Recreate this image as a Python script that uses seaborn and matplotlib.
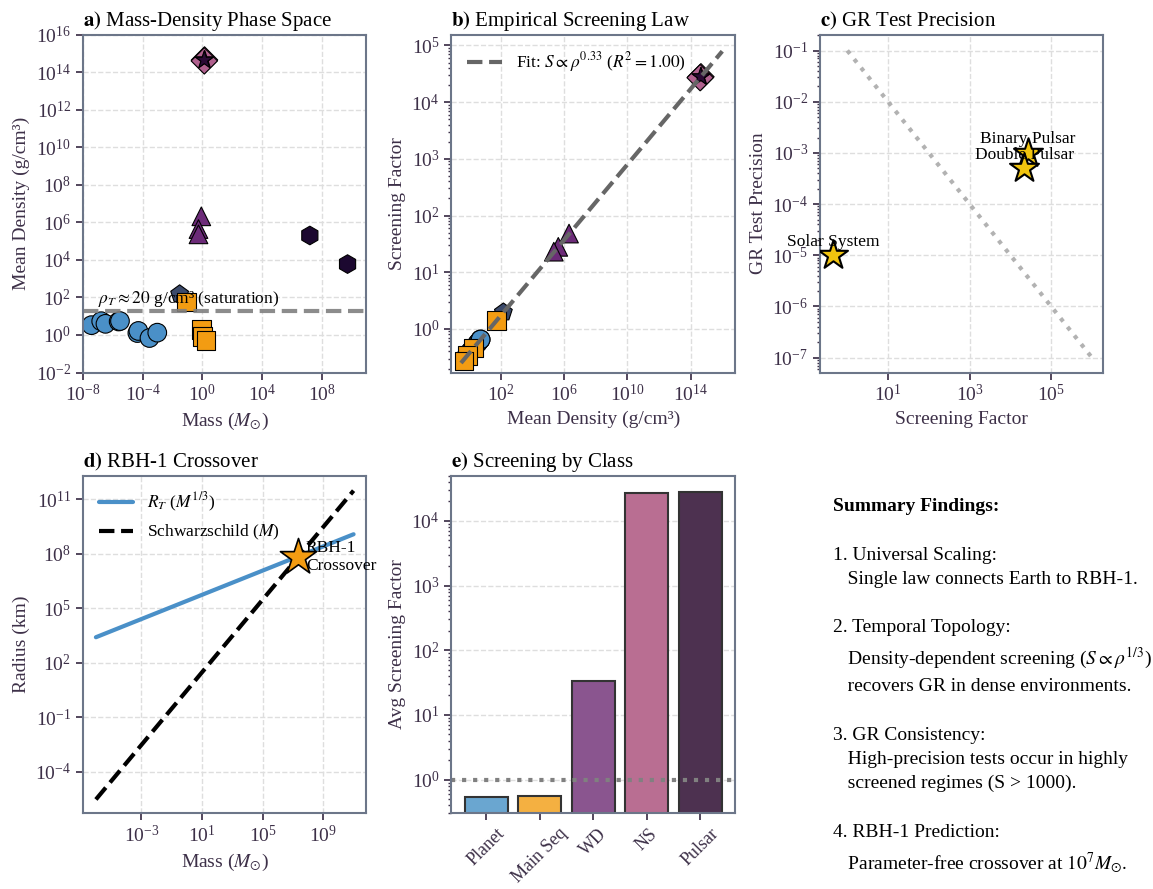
import numpy as np
import pandas as pd
import matplotlib
matplotlib.use("Agg")
import matplotlib.pyplot as plt
import seaborn as sns
from matplotlib.ticker import LogLocator, NullLocator

# objets
names = ["Moon", "Mercury", "Mars", "Venus", "Earth", "Uranus", "Neptune", "Saturn", "Jupiter",
         "Brown Dwarf", "Red Dwarf", "Star K", "Sun", "Star A",
         "Sirius B", "40 Eri B", "Procyon B",
         "NS 1", "NS 2", "Hulse-Taylor", "Double Pulsar",
         "BH 1", "BH 2"]
obj_class = ["Planet"] * 9 + ["Brown Dwarf"] + ["Main Seq"] * 4 + ["WD"] * 3 + ["NS"] * 2 + ["Pulsar"] * 2 + ["BH"] * 2
mass = [3.7e-8, 1.66e-7, 3.2e-7, 2.45e-6, 3.0e-6, 4.4e-5, 5.15e-5, 2.86e-4, 9.5e-4,
        0.03, 0.09, 0.85, 1.0, 1.8,
        0.85, 0.55, 0.55,
        1.4, 1.35, 1.44, 1.34,
        1.6e7, 5.4e9]
density = [3.34, 5.43, 3.93, 5.24, 5.51, 1.27, 1.64, 0.69, 1.33,
           150, 57, 1.9, 0.8, 0.5,
           2.1e6, 4.4e5, 2.3e5,
           4.5e14, 4.0e14, 4.6e14, 4.4e14,
           2.0e5, 6.0e3]
screening = [0.55, 0.65, 0.58, 0.64, 0.65, 0.40, 0.43, 0.33, 0.41,
             1.96, 1.42, 0.46, 0.34, 0.27,
             48, 28, 23,
             2.8e4, 2.7e4, 2.8e4, 2.8e4,
             np.nan, np.nan]

# loi ajustée
fit_rho = [10**-0.5, 1e16]
fit_s = [0.25, 7.9e4]

# tests de RG
test_names = ["Solar System", "Binary Pulsar", "Double Pulsar"]
test_screening = [0.45, 2.7e4, 2.2e4]
test_precision = [1e-5, 1e-3, 5e-4]
trend_s = [1.0, 1e6]
trend_prec = [1e-1, 1e-7]

# croisement RBH-1
m_grid = [1e-6, 1e11]
r_tidal = [10**3.4, 10**9.07]
r_schw = [2.95e-6, 2.95e11]
cross_m = [2e7]
cross_r = [6.5e7]

# moyennes par classe
bar_classes = ["Planet", "Main Seq", "WD", "NS", "Pulsar"]
bar_values = [0.53, 0.56, 33, 2.7e4, 2.8e4]
bar_colors = ["#6aa6d0", "#f4b041", "#8a558f", "#b96e92", "#4d3150"]

colors = {"Planet": "#4a90c8", "Brown Dwarf": "#3b4a6b", "Main Seq": "#f39c12", "WD": "#6c2b78",
          "NS": "#b0608e", "Pulsar": "#2b0a35", "BH": "#1c0830"}
markers = {"Planet": "o", "Brown Dwarf": "p", "Main Seq": "s", "WD": "^",
           "NS": "D", "Pulsar": "*", "BH": "h"}

df = pd.DataFrame({"name": names, "cls": obj_class, "mass": mass,
                   "density": density, "screening": screening})

text_col = "#3d3048"
sns.set_theme(style="whitegrid", rc={
    "axes.edgecolor": "#6c7689", "axes.linewidth": 1.5,
    "grid.color": "#dedede", "grid.linestyle": "--", "grid.linewidth": 1.0,
    "xtick.bottom": True, "ytick.left": True,
    "xtick.color": text_col, "ytick.color": text_col,
    "xtick.major.size": 5, "ytick.major.size": 5,
    "xtick.minor.size": 2.5, "ytick.minor.size": 2.5,
    "xtick.labelsize": 14, "ytick.labelsize": 14,
    "axes.labelsize": 14, "axes.labelcolor": text_col,
    "axes.titlesize": 15, "text.color": "black",
})
plt.rcParams["font.family"] = "serif"
plt.rcParams["font.serif"] = ["Liberation Serif", "DejaVu Serif"]
plt.rcParams["mathtext.fontset"] = "stix"

fig, axes = plt.subplots(2, 3, figsize=(11.53, 8.89), dpi=100)
fig.subplots_adjust(left=0.072, right=0.957, top=0.961, bottom=0.085, wspace=0.30, hspace=0.305)
ax1, ax2, ax3 = axes[0]
ax4, ax5, ax6 = axes[1]

# a) phase space
sns.scatterplot(data=df, x="mass", y="density", hue="cls", style="cls", palette=colors,
                markers=markers, s=180, edgecolor="black", linewidth=0.8, legend=False, ax=ax1)
ax1.set_xscale("log")
ax1.set_yscale("log")
ax1.axhline(20, color="gray", ls="--", lw=3, alpha=0.9)
ax1.text(1e-7, 25, r"$\rho_T \approx 20$ g/cm³ (saturation)", fontsize=12.5, va="bottom")
ax1.set_xlim(1e-8, 1e11)
ax1.set_ylim(1e-2, 1e16)
ax1.set_xticks([10.0**k for k in range(-8, 10, 4)])
ax1.set_yticks([10.0**k for k in range(-2, 17, 2)])
ax1.xaxis.set_minor_locator(NullLocator())
ax1.yaxis.set_minor_locator(NullLocator())
ax1.set_xlabel(r"Mass ($M_{\odot}$)")
ax1.set_ylabel("Mean Density (g/cm³)")
ax1.set_title(r"$\bf{a)}$ Mass-Density Phase Space", loc="left")

# b) screening law
sns.lineplot(x=fit_rho, y=fit_s, color="#666666", ls="--", lw=3, ax=ax2,
             label=r"Fit: $S \propto \rho^{0.33}$ ($R^2 = 1.00$)")
sns.scatterplot(data=df.dropna(), x="density", y="screening", hue="cls", style="cls", palette=colors,
                markers=markers, s=180, edgecolor="black", linewidth=0.8, legend=False, ax=ax2)
ax2.set_xscale("log")
ax2.set_yscale("log")
ax2.set_xlim(10**-1.1, 10**16.8)
ax2.set_ylim(10**-0.77, 10**5.19)
ax2.set_xticks([10.0**k for k in range(2, 15, 4)])
ax2.xaxis.set_minor_locator(NullLocator())
ax2.yaxis.set_minor_locator(LogLocator(subs=np.arange(2, 10)))
ax2.legend(loc="upper left", frameon=False, fontsize=12.5)
ax2.set_xlabel("Mean Density (g/cm³)")
ax2.set_ylabel("Screening Factor")
ax2.set_title(r"$\bf{b)}$ Empirical Screening Law", loc="left")

# c) GR precision
sns.lineplot(x=trend_s, y=trend_prec, color="#aaaaaa", ls=":", lw=3, alpha=0.9, ax=ax3)
sns.scatterplot(x=test_screening, y=test_precision, marker="*", s=480, color="#f1c40f",
                edgecolor="black", linewidth=1.5, zorder=3, ax=ax3)
for n, sx, py in zip(test_names, test_screening, test_precision):
    ax3.annotate(n, (sx, py), xytext=(0, 4), textcoords="offset points",
                 ha="center", va="bottom", fontsize=12.5)
ax3.set_xscale("log")
ax3.set_yscale("log")
ax3.set_xlim(10**-0.67, 10**6.28)
ax3.set_ylim(10**-7.29, 10**-0.69)
ax3.set_xticks([10.0, 1e3, 1e5])
ax3.xaxis.set_minor_locator(NullLocator())
ax3.yaxis.set_minor_locator(LogLocator(subs=np.arange(2, 10)))
ax3.set_xlabel("Screening Factor")
ax3.set_ylabel("GR Test Precision")
ax3.set_title(r"$\bf{c)}$ GR Test Precision", loc="left")

# d) RBH-1 crossover
sns.lineplot(x=m_grid, y=r_tidal, color="#4a90c8", lw=3, ax=ax4, label=r"$R_T$ ($M^{1/3}$)")
sns.lineplot(x=m_grid, y=r_schw, color="black", ls="--", lw=3, ax=ax4, label=r"Schwarzschild ($M$)")
sns.scatterplot(x=cross_m, y=cross_r, marker="*", s=750, color="#f39c12",
                edgecolor="black", linewidth=1.2, zorder=4, ax=ax4)
ax4.annotate("RBH-1\nCrossover", (cross_m[0], cross_r[0]), xytext=(6, 0),
             textcoords="offset points", ha="left", va="center", fontsize=12.5)
ax4.set_xscale("log")
ax4.set_yscale("log")
ax4.set_xlim(10**-6.85, 10**11.85)
ax4.set_ylim(10**-6.3, 10**12.3)
ax4.set_xticks([10.0**k for k in range(-3, 10, 4)])
ax4.set_yticks([10.0**k for k in range(-4, 12, 3)])
ax4.xaxis.set_minor_locator(NullLocator())
ax4.yaxis.set_minor_locator(NullLocator())
ax4.legend(loc="upper left", frameon=False, fontsize=12.5)
ax4.set_xlabel(r"Mass ($M_{\odot}$)")
ax4.set_ylabel("Radius (km)")
ax4.set_title(r"$\bf{d)}$ RBH-1 Crossover", loc="left")

# e) screening by class
sns.barplot(x=bar_classes, y=bar_values, hue=bar_classes, palette=bar_colors, legend=False,
            edgecolor="#333333", linewidth=1.5, saturation=1, width=0.8, ax=ax5)
ax5.set_yscale("log")
ax5.axhline(1, color="gray", ls=":", lw=3)
ax5.set_xlim(-0.65, 4.65)
ax5.set_ylim(0.3, 10**4.7)
ax5.yaxis.set_minor_locator(LogLocator(subs=np.arange(2, 10)))
ax5.tick_params(axis="x", rotation=45, labelsize=13)
ax5.set_ylabel("Avg Screening Factor")
ax5.set_xlabel("")
ax5.set_title(r"$\bf{e)}$ Screening by Class", loc="left")

# f) summary
ax6.axis("off")
summary = ("1. Universal Scaling:\n"
           "   Single law connects Earth to RBH-1.\n\n"
           "2. Temporal Topology:\n"
           "   Density-dependent screening ($S \\propto \\rho^{1/3}$)\n"
           "   recovers GR in dense environments.\n\n"
           "3. GR Consistency:\n"
           "   High-precision tests occur in highly\n"
           "   screened regimes (S > 1000).\n\n"
           "4. RBH-1 Prediction:\n"
           "   Parameter-free crossover at $10^7 M_{\\odot}$.")
ax6.text(0.045, 0.935, "Summary Findings:", transform=ax6.transAxes, va="top", ha="left",
         fontsize=14, fontweight="bold")
ax6.text(0.045, 0.79, summary, transform=ax6.transAxes, va="top", ha="left",
         fontsize=14, linespacing=1.55)

fig.savefig("out.png", dpi=100)
